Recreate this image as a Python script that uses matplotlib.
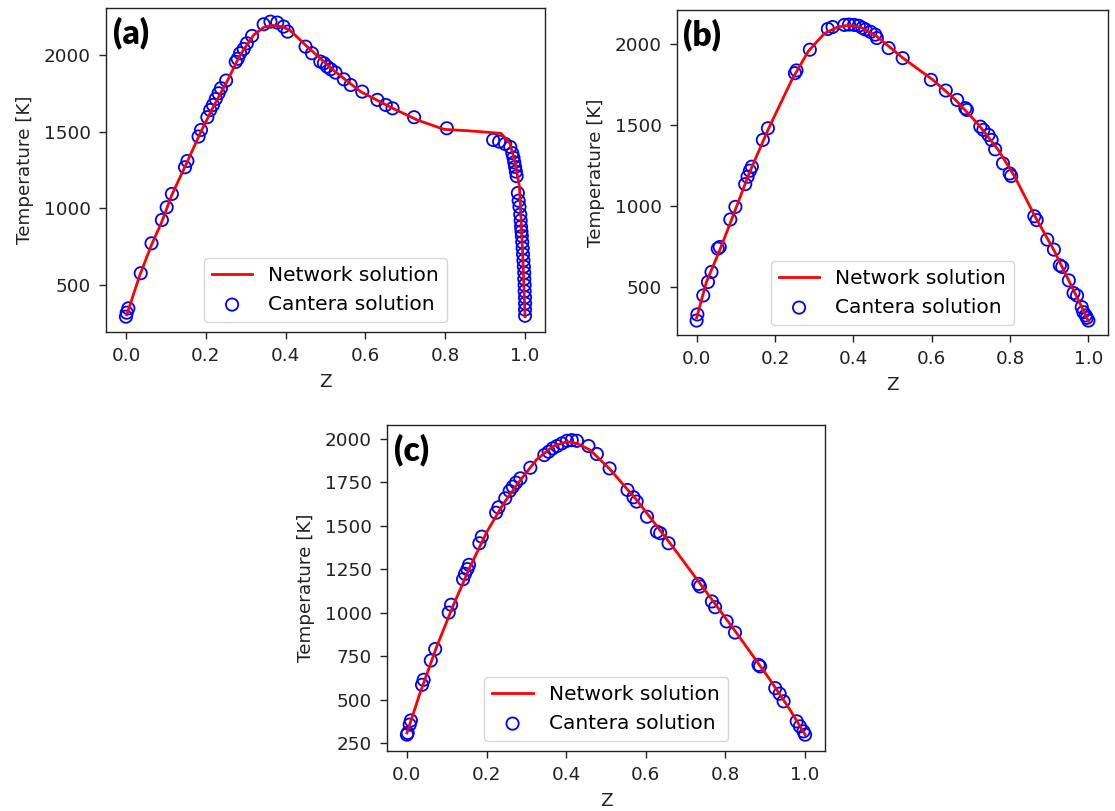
import matplotlib
matplotlib.use("Agg")
import matplotlib.pyplot as plt

# ---------------- data ----------------
# Panel (a)
a_line_z = [0.002, 0.035, 0.064, 0.090, 0.115, 0.152, 0.186, 0.219, 0.253, 0.286, 0.320,
            0.345, 0.366, 0.391, 0.412, 0.454, 0.521, 0.588, 0.663, 0.730, 0.797, 0.856,
            0.940, 0.962, 0.975, 0.986, 0.994, 1.000]
a_line_T = [306, 567, 762, 914, 1088, 1295, 1490, 1663, 1826, 2000, 2130,
            2180, 2193, 2185, 2159, 2054, 1898, 1761, 1659, 1576, 1515, 1506,
            1489, 1424, 1300, 1141, 709, 294]
a_pts_z = [0.000, 0.002, 0.006, 0.037, 0.064, 0.090, 0.102, 0.115, 0.148, 0.154, 0.182,
           0.188, 0.204, 0.211, 0.218, 0.225, 0.232, 0.238, 0.251, 0.275, 0.280, 0.286,
           0.295, 0.303, 0.316, 0.345, 0.362, 0.379, 0.395, 0.405, 0.450, 0.466, 0.487,
           0.496, 0.504, 0.513, 0.525, 0.546, 0.563, 0.592, 0.630, 0.651, 0.668, 0.722,
           0.804, 0.920, 0.935, 0.950, 0.963, 0.968, 0.971, 0.973, 0.975, 0.977, 0.979,
           0.982, 0.984, 0.986, 0.988, 0.989, 0.990, 0.991, 0.992, 0.993, 0.994, 0.995,
           0.996, 0.997, 0.998, 0.998, 0.999, 0.999, 1.000, 1.000, 1.000, 1.000]
a_pts_T = [294, 320, 348, 577, 772, 924, 1007, 1094, 1268, 1309, 1468,
           1511, 1594, 1641, 1674, 1713, 1750, 1783, 1833, 1955, 1975, 2011,
           2039, 2076, 2124, 2200, 2217, 2211, 2185, 2152, 2054, 2011, 1957,
           1946, 1924, 1907, 1885, 1841, 1804, 1761, 1707, 1674, 1652, 1594,
           1522, 1446, 1435, 1420, 1400, 1360, 1330, 1300, 1270, 1240, 1210,
           1100, 1050, 1010, 960, 920, 880, 850, 820, 780, 740, 700,
           660, 620, 580, 540, 500, 460, 420, 380, 340, 300]

# Panel (b)
b_line_z = [0.000, 0.025, 0.059, 0.092, 0.134, 0.184, 0.243, 0.285, 0.326, 0.360, 0.385,
            0.418, 0.460, 0.527, 0.603, 0.661, 0.720, 0.770, 0.812, 0.862, 0.912, 0.954,
            0.979, 1.000]
b_line_T = [310, 531, 727, 933, 1201, 1480, 1779, 1955, 2065, 2105, 2115,
            2105, 2047, 1913, 1779, 1655, 1501, 1346, 1181, 944, 727, 520,
            397, 290]
b_pts_z = [0.000, 0.002, 0.017, 0.029, 0.038, 0.054, 0.059, 0.086, 0.099, 0.124, 0.130,
           0.136, 0.141, 0.169, 0.182, 0.251, 0.255, 0.289, 0.335, 0.347, 0.377, 0.389,
           0.402, 0.414, 0.423, 0.431, 0.444, 0.456, 0.460, 0.490, 0.526, 0.598, 0.636,
           0.665, 0.686, 0.690, 0.724, 0.732, 0.745, 0.753, 0.762, 0.782, 0.799, 0.803,
           0.862, 0.868, 0.895, 0.912, 0.927, 0.933, 0.950, 0.962, 0.971, 0.983, 0.987,
           0.993, 0.996, 1.000]
b_pts_T = [293, 331, 448, 531, 593, 737, 747, 917, 995, 1135, 1181,
           1218, 1243, 1408, 1480, 1820, 1837, 1965, 2093, 2105, 2118, 2120,
           2118, 2113, 2100, 2090, 2075, 2058, 2037, 1975, 1913, 1779, 1713,
           1655, 1604, 1593, 1490, 1470, 1439, 1408, 1350, 1263, 1201, 1185,
           937, 913, 793, 731, 634, 624, 541, 463, 448, 376, 345,
           325, 310, 293]

# Panel (c)
c_line_z = [0.000, 0.033, 0.075, 0.117, 0.159, 0.201, 0.243, 0.285, 0.326, 0.368, 0.402,
            0.427, 0.460, 0.510, 0.577, 0.661, 0.745, 0.828, 0.912, 0.962, 1.000]
c_line_T = [308, 538, 806, 1046, 1266, 1467, 1630, 1764, 1883, 1960, 1985,
            1975, 1937, 1826, 1649, 1400, 1141, 883, 614, 442, 298]
c_pts_z = [0.000, 0.002, 0.007, 0.010, 0.038, 0.042, 0.060, 0.071, 0.105, 0.111, 0.141,
           0.146, 0.152, 0.156, 0.182, 0.188, 0.224, 0.230, 0.247, 0.258, 0.266, 0.274,
           0.285, 0.310, 0.345, 0.356, 0.366, 0.377, 0.389, 0.402, 0.414, 0.427, 0.456,
           0.477, 0.509, 0.554, 0.569, 0.577, 0.603, 0.628, 0.636, 0.657, 0.732, 0.736,
           0.766, 0.774, 0.803, 0.824, 0.883, 0.887, 0.925, 0.936, 0.946, 0.979, 0.987,
           0.996, 1.000]
c_pts_T = [298, 308, 356, 380, 585, 614, 725, 791, 1001, 1046, 1193,
           1224, 1251, 1276, 1400, 1438, 1576, 1607, 1659, 1701, 1726, 1749,
           1774, 1835, 1908, 1927, 1946, 1960, 1975, 1990, 1994, 1990, 1960,
           1914, 1831, 1707, 1665, 1640, 1553, 1467, 1458, 1400, 1166, 1151,
           1065, 1032, 950, 886, 700, 691, 566, 534, 490, 375, 346,
           317, 298]

panel_labels = ["(a)", "(b)", "(c)"]
line_label = "Network solution"
pts_label = "Cantera solution"
x_label = "Z"
y_label = "Temperature [K]"

# ---------------- figure ----------------
W, H = 1115, 811
fig = plt.figure(figsize=(W / 100, H / 100), dpi=100)

def box(left, top, right, bottom):
    return [left / W, 1 - bottom / H, (right - left) / W, (bottom - top) / H]

specs = [
    (box(106, 8, 545, 332), a_line_z, a_line_T, a_pts_z, a_pts_T, (194, 2306), [500, 1000, 1500, 2000]),
    (box(677, 10, 1108, 335), b_line_z, b_line_T, b_pts_z, b_pts_T, (204, 2210), [500, 1000, 1500, 2000]),
    (box(387, 425, 825, 751), c_line_z, c_line_T, c_pts_z, c_pts_T, (204, 2081),
     [250, 500, 750, 1000, 1250, 1500, 1750, 2000]),
]

for (rect, lz, lT, pz, pT, ylim, yt), lab in zip(specs, panel_labels):
    ax = fig.add_axes(rect)
    ax.plot(lz, lT, color="red", lw=2.0, label=line_label, zorder=3)
    ax.scatter(pz, pT, s=78, facecolors="none", edgecolors="blue", linewidths=1.3,
               label=pts_label, zorder=2)
    ax.set_xlim(-0.05, 1.05)
    ax.set_ylim(*ylim)
    ax.set_xticks([0.0, 0.2, 0.4, 0.6, 0.8, 1.0])
    ax.set_yticks(yt)
    ax.tick_params(labelsize=13.2, length=4.8, width=1.0, pad=6.0, colors="#222222")
    for sp in ax.spines.values():
        sp.set_linewidth(1.0)
        sp.set_color("#222222")
    ax.set_xlabel(x_label, fontsize=13.2, labelpad=6, color="#222222")
    ax.set_ylabel(y_label, fontsize=13.2, labelpad=7, color="#222222")
    ax.legend(loc="lower center", fontsize=14.5)
    ax.text(0.015, 0.975, lab, transform=ax.transAxes, ha="left", va="top",
            fontsize=24, fontweight="heavy", family=["Lato", "DejaVu Sans"])

fig.savefig("out.png", dpi=100)
